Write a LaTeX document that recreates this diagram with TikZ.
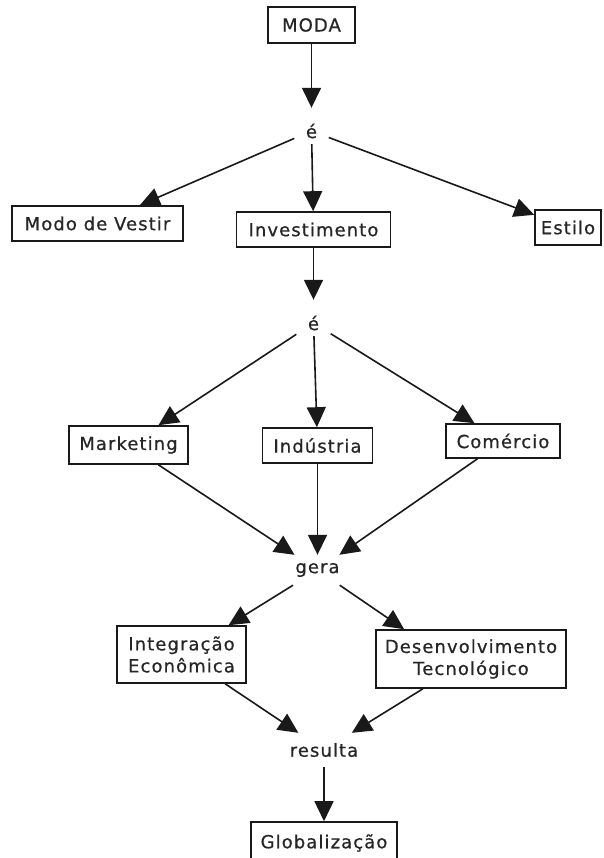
\documentclass[tikz,border=0pt]{standalone}
\usepackage{fontspec}
\newfontfamily\dvfont{DejaVu Sans}[LetterSpace=6,FakeBold=0.6]
\usetikzlibrary{arrows.meta}
\begin{document}
\begin{tikzpicture}[x=1pt,y=-1pt,
  box/.style={draw=black!90, line width=1.6pt, text=black!85, fill=white,
    minimum height=35pt, inner sep=0pt, align=center,
    font=\dvfont\fontsize{18}{22}\selectfont},
  lbl/.style={text=black!85, inner sep=0pt, minimum width=34pt, minimum height=26pt,
    font=\dvfont\fontsize{18}{22}\selectfont},
  link/.style={line width=1.6pt, draw=black!90, -{Triangle[length=20pt,width=19pt]}}]
\fill[white] (0,0) rectangle (603,858);
\useasboundingbox (0,0) rectangle (603,858);

\node[box, minimum width=87pt, minimum height=36pt] (moda) at (311.5,25) {MODA};
\node[lbl] (e1) at (311.5,131) {é};
\node[box, minimum width=171pt] (modo) at (97.5,223.5) {Modo de Vestir};
\node[box, minimum width=154pt] (inv) at (313.5,229.5) {Investimento};
\node[box, minimum width=66pt] (estilo) at (568,227.5) {Estilo};
\node[lbl] (e2) at (313.5,323) {é};
\node[box, minimum width=119pt, minimum height=38pt] (mkt) at (128.5,445) {Marketing};
\node[box, minimum width=110pt] (ind) at (317.5,445.5) {Indústria};
\node[box, minimum width=114pt, minimum height=34pt] (com) at (503,441) {Comércio};
\node[lbl, minimum width=60pt, minimum height=30pt] (gera) at (317.5,570) {gera};
\node[box, minimum width=129pt, minimum height=57pt] (integ) at (181.5,654.5) {Integração\\Econômica};
\node[box, minimum width=190pt, minimum height=58pt] (desenv) at (471,659) {Desenvolvimento\\Tecnológico};
\node[lbl, minimum width=80pt, minimum height=34pt] (res) at (324,750) {resulta};
\node[box, minimum width=146pt, minimum height=42pt] (glob) at (324,843) {Globalização};

\draw[link, shorten >=10pt] (moda) -- (e1);
\draw[link] (e1) -- (modo);
\draw[link] (e1) -- (inv);
\draw[link] (e1) -- (estilo);
\draw[link, shorten >=10pt] (inv) -- (e2);
\draw[link] (e2) -- (mkt);
\draw[link] (e2) -- (ind);
\draw[link] (e2) -- (com);
\draw[link] (mkt) -- (gera);
\draw[link] (ind) -- (gera);
\draw[link] (com) -- (gera);
\draw[link] (gera) -- (integ);
\draw[link] (gera) -- (desenv.156);
\draw[link] (integ) -- (res);
\draw[link] (desenv) -- (res);
\draw[link] (res) -- (glob);
\end{tikzpicture}
\end{document}
